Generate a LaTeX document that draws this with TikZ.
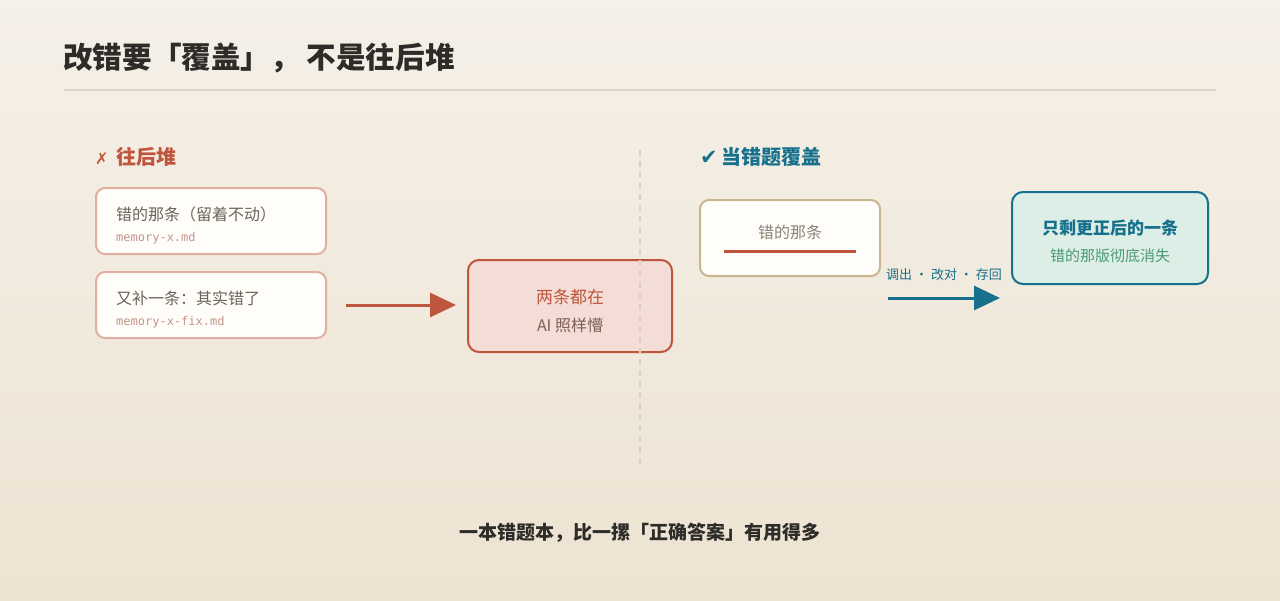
\documentclass[tikz,border=0pt]{standalone}
\usepackage{fontspec}
\setmainfont{Noto Sans CJK SC}
\newfontfamily\cjk{Noto Sans CJK SC}
\newfontfamily\symb{DejaVu Sans}
\newfontfamily\monof{DejaVu Sans Mono}
\usetikzlibrary{arrows.meta}
\definecolor{bgtop}{HTML}{F5F0E8}
\definecolor{bgbot}{HTML}{EDE3D2}
\definecolor{ink}{HTML}{2E2C29}
\definecolor{rule}{HTML}{DDD3C2}
\definecolor{redc}{HTML}{C0553E}
\definecolor{redbd}{HTML}{E0AE9F}
\definecolor{redfill}{HTML}{F4DDD6}
\definecolor{paper}{HTML}{FFFDF9}
\definecolor{grayt}{HTML}{6B6458}
\definecolor{monoc}{HTML}{C2958A}
\definecolor{brownt}{HTML}{7D5E55}
\definecolor{teal}{HTML}{17708C}
\definecolor{tanbd}{HTML}{C9B68F}
\definecolor{lgray}{HTML}{8C8376}
\definecolor{greenfill}{HTML}{DCEEE6}
\definecolor{greent}{HTML}{4A9A78}
\definecolor{divc}{HTML}{DDD0BF}
\tikzset{
  card/.style={draw=redbd, line width=2pt, fill=paper, rounded corners=9pt},
  bigbox/.style={line width=2pt, rounded corners=11pt},
  fs/.style={font=\fontsize{#1}{#1}\selectfont},
  arr/.style={line width=3pt, -{Triangle[length=26pt,width=24pt]}},
}
\begin{document}
\begin{tikzpicture}[x=1pt,y=-1pt]
\shade[top color=bgtop, bottom color=bgbot] (0,0) rectangle (1280,600);
\useasboundingbox (0,0) rectangle (1280,600);
% title
\node[anchor=west, inner sep=0, text=ink, fs=29.6] (title) at (63,58) {\bfseries 改错要「覆盖」， 不是往后堆};
\draw[rule, line width=2pt] (64,90) -- (1216,90);
% left header
\node[anchor=west, inner sep=0, text=redc, fs=20] (lh) at (95,157) {{\symb\fontsize{16}{16}\selectfont ✗}\hspace{8pt}\bfseries 往后堆};
% left cards
\draw[card] (96,188) rectangle (326,254);
\node[anchor=west, inner sep=0, text=grayt, fs=16] (c1t) at (116,214) {错的那条（留着不动）};
\node[anchor=west, inner sep=0, text=monoc, fs=12] (c1m) at (116,238) {\monof memory-x.md};
\draw[card] (96,272) rectangle (326,338);
\node[anchor=west, inner sep=0, text=grayt, fs=16] (c2t) at (116,298) {又补一条：其实错了};
\node[anchor=west, inner sep=0, text=monoc, fs=12] (c2m) at (116,322) {\monof memory-x-fix.md};
% left arrow
\coordinate (la1) at (346,305);
\coordinate (la2) at (456,305);
\draw[arr, redc] (la1) -- (la2);
% result box left
\draw[bigbox, draw=redc, fill=redfill] (468,260) rectangle (672,352);
\node[inner sep=0, text=redc, fs=17] (r1) at (570,297) {两条都在};
\node[inner sep=0, text=brownt, fs=16] (r2) at (570,325) {AI 照样懵};
% divider (drawn over the box, as in the reference)
\draw[divc, line width=1.5pt, dash pattern=on 6pt off 5pt] (640,150) -- (640,468);
% right header
\node[anchor=west, inner sep=0, text=teal, fs=20] (rh) at (700,157) {{\symb\fontsize{21}{21}\selectfont ✔}\hspace{4pt}\bfseries 当错题覆盖};
% right card
\draw[bigbox, draw=tanbd, fill=paper, rounded corners=9pt] (700,200) rectangle (880,276);
\node[inner sep=0, text=lgray, fs=16] (c3t) at (790,232) {错的那条};
\draw[redc, line width=2.5pt] (724,251.5) -- (856,251.5);
% right arrow
\node[inner sep=0, text=teal, fs=13] (lbl) at (944,275) {调出 · 改对 · 存回};
\coordinate (ra1) at (888,298);
\coordinate (ra2) at (1000,298);
\draw[arr, teal] (ra1) -- (ra2);
% result box right
\draw[bigbox, draw=teal, fill=greenfill] (1012,192) rectangle (1208,284);
\node[inner sep=0, text=teal, fs=17] (g1) at (1110,228) {\bfseries 只剩更正后的一条};
\node[inner sep=0, text=greent, fs=15] (g2) at (1110,256) {错的那版彻底消失};
% footer
\node[inner sep=0, text=ink, fs=19] (foot) at (640,533) {\bfseries 一本错题本，比一摞「正确答案」有用得多};
\end{tikzpicture}
\end{document}
